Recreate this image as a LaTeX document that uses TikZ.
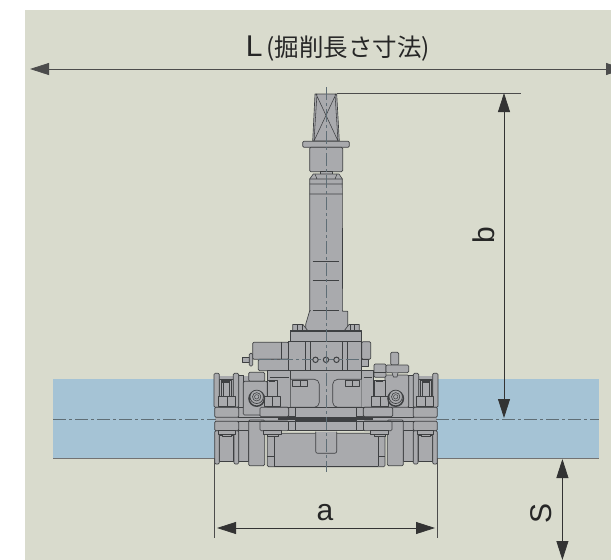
\documentclass[tikz,border=0pt]{standalone}
\usepackage{fontspec}
\setmainfont{Liberation Sans}
\newfontfamily\jpfont{Noto Sans CJK JP}
\usetikzlibrary{arrows.meta}
\definecolor{bgc}{HTML}{D9DBCD}
\definecolor{pipec}{HTML}{A5C3D5}
\definecolor{metal}{HTML}{A9AAAD}
\definecolor{ink}{HTML}{3E4042}
\definecolor{axisc}{HTML}{5F6E76}
\tikzset{
  x=1pt,y=-1pt,
  part/.style={draw=ink,fill=metal,line width=0.65pt,line join=round},
  rpart/.style={part,rounded corners=1.2pt},
  thin part/.style={draw=ink,line width=0.55pt},
  heavy part/.style={draw=ink,line width=1.3pt},
  axis/.style={draw=axisc,line width=0.9pt,dash pattern=on 13pt off 3pt on 3pt off 3pt},
  dimline/.style={draw=black!80,line width=0.8pt,{Triangle[length=19pt,width=12pt]}-{Triangle[length=19pt,width=12pt]}},
  extline/.style={draw=black!70,line width=0.7pt},
  dimtext/.style={text=black!85,font=\fontsize{30}{30}\selectfont,inner sep=0pt},
}
\newcommand{\pbox}[5][part]{\draw[#1] (#2,#3) rectangle (#4,#5);}
\newcommand{\sideassembly}{%
  % solid backing
  \fill[metal] (216,376) rectangle (262,462);
  % flanges upper
  \pbox{238.7}{375}{243.5}{407.3}
  \pbox{219.3}{379.3}{233.3}{407.3}
  \pbox[rpart]{214}{373.3}{219.3}{407.3}
  \pbox[rpart]{233.3}{373.3}{238.7}{407.3}
  \pbox{221}{380}{231.7}{396.7}
  \pbox[heavy part]{223}{381}{229.7}{382}
  \draw[thin part] (223,381) -- (223,396.7) (229.7,381) -- (229.7,396.7);
  \pbox{218.3}{396.7}{235.7}{406}
  \draw[thin part] (227,396.7) -- (227,406);
  % plates
  \pbox[rpart]{214.7}{407.3}{238.7}{417.3}
  \pbox[rpart]{214.7}{421.3}{238.7}{430.7}
  % lower collars
  \pbox{219.3}{435}{233.3}{461.7}
  \pbox{238.7}{430.7}{248.7}{461.7}
  \pbox[rpart]{214.7}{430.7}{219.3}{464}
  \pbox[rpart]{234}{430.7}{238.7}{464}
  \pbox{218.3}{430.7}{235}{434}
  \pbox{222}{434}{231}{436}
  \pbox[rpart]{248.7}{420}{264.7}{465.7}
  % centre plates
  \pbox[rpart]{260}{407.3}{288.7}{416.7}
  \pbox{288.7}{407.3}{295.3}{416.7}
  \pbox[rpart]{260}{421}{288.7}{430.7}
  \pbox{288.7}{421}{295.3}{430.7}
  \pbox{263.3}{430.7}{281.7}{434}
  \pbox{267}{434}{278}{436}
}
\begin{document}
\begin{tikzpicture}
\useasboundingbox (0,0) rectangle (611,560);
\clip (0,0) rectangle (611,560);
\fill[bgc] (25,10) rectangle (611,560);
% pipes
\fill[pipec] (53,379) rectangle (216,458);
\fill[pipec] (436,379) rectangle (599,458);
\draw[black!55,line width=0.7pt] (53,458) -- (216,458) (436,458) -- (599,458);
% thin gap bar
\fill[metal] (214.7,417) rectangle (437.3,421.5);
% stem
\draw[part] (315,94) -- (336.7,94) -- (339.3,141) -- (312.7,141) -- cycle;
\draw[thin part] (316,94) -- (338,141) (336,94) -- (314,141) (317,94) -- (314,141) (335,94) -- (338,141);
\pbox[rpart]{302.7}{141.3}{349.3}{147.3}
\pbox[rpart]{309.7}{147.3}{342.7}{171.7}
\pbox{320}{171.7}{332.7}{174}
\draw[part] (309.7,340) -- (309.7,179) -- (313.3,174) -- (339,174) -- (342.3,179) -- (342.7,340) -- cycle;
\draw[thin part] (309.7,184) -- (342.7,184) (309.7,194) -- (342.7,194) (309.7,179) -- (342.7,179)
  (315,174) -- (317,179) (337,174) -- (335,179);
\draw[thin part] (312.7,261.3) -- (339.3,261.3) (312.7,280.7) -- (339.3,280.7);
\draw[part] (309.7,310.7) -- (305.7,324.3) -- (305.7,331) -- (347.7,331) -- (347.7,311.3) -- (342.7,311.3) -- (342.7,310.7) -- cycle;
\draw[metal,line width=1.2pt] (311,311) -- (341.5,311);
\draw[thin part,line width=0.8pt] (312.7,310.7) -- (339.3,310.7);
% top block nuts
\draw[part] (292.7,331) -- (292.7,324.5) -- (303,324.5) -- (308,331);
\draw[thin part] (297.5,324.5) -- (297.5,331) (302,324.5) -- (302,331);
\draw[part] (359.3,331) -- (359.3,324.5) -- (349,324.5) -- (344,331);
\draw[thin part] (354.5,324.5) -- (354.5,331) (350,324.5) -- (350,331);
% block
\pbox{290.7}{330.7}{361.7}{341.7}
\draw[heavy part] (290.7,331.3) -- (361.7,331.3);
\pbox{242.7}{357.3}{249.3}{362}
\pbox[rpart]{249.3}{353.3}{252.7}{366}
\pbox[rpart]{252.7}{342.3}{288.7}{359.3}
\pbox[rpart]{258.3}{359.3}{290.7}{370.7}
\pbox[rpart]{361.7}{341.7}{370.7}{359.3}
\pbox{361.7}{359.3}{368}{366}
\pbox{288.7}{341.7}{361.7}{370.7}
\draw[thin part] (281.5,342.3) -- (281.5,359.3) (305,341.7) -- (305,370.7) (310,341.7) -- (310,370.7)
  (342,341.7) -- (342,370.7) (347,341.7) -- (347,370.7);
\draw[axis,line width=0.6pt] (258,359.5) -- (362,359.5);
\foreach \cx in {315.5,326,336.5} {\draw[draw=ink,line width=1pt,fill=metal] (\cx,359.8) circle (2.7);}
% lower centre
\pbox{267.3}{370.7}{290.7}{407.3}
\pbox{290.7}{370.7}{361.7}{407.3}
\pbox{361.7}{370.7}{373.5}{407.3}
\draw[draw=ink,line width=1pt] (269.5,377) -- (289,377) (363.5,377) -- (372,377);
\draw[part,rounded corners=5pt] (290.7,379.3) -- (319.3,379.3) -- (319.3,407.3) -- (290.7,407.3);
\draw[part,rounded corners=5pt] (361.7,379.3) -- (332.7,379.3) -- (332.7,407.3) -- (361.7,407.3);
\pbox{292.7}{380.7}{307.3}{386.7}
\draw[thin part] (300,380.7) -- (300,386.7);
\pbox{345}{380.7}{359.3}{386.7}
\draw[thin part] (352,380.7) -- (352,386.7);
\pbox{295.3}{407.3}{356.7}{417.3}
\draw[fill=metal,draw=ink,line width=0.65pt] (295.3,420) rectangle (356.7,430);
% lower housing
\pbox[rpart]{267.3}{433.3}{385}{466.7}
\draw[thin part] (274,433.3) -- (274,466) (378.3,433.3) -- (378.3,466) (267.3,456) -- (274,456) (378.3,456) -- (385,456);
\draw[heavy part] (274,466.3) -- (378.3,466.3);
\draw[part,rounded corners=2pt] (315.7,431.7) -- (315.7,453.3) -- (336.7,453.3) -- (336.7,431.7);
% sides
\sideassembly
\begin{scope}[xshift=652pt,xscale=-1]
\sideassembly
\end{scope}
% left bracket (upper)
\pbox[rpart]{248.7}{372.3}{264.7}{381.3}
\pbox[rpart]{243.3}{381.3}{267.3}{415}
\pbox{267.3}{380}{277.3}{396.7}
\draw[heavy part] (269.3,381) -- (275.3,381);
\pbox{264}{396.7}{280.7}{406}
\draw[thin part] (272.5,396.7) -- (272.5,406);
\pbox[rpart]{260}{407.3}{288.7}{416.7}
% right bracket (upper)
\pbox[rpart]{385}{375}{408.7}{407.3}
\pbox[rpart]{374}{364}{386}{377.3}
\draw[thin part] (374,372) -- (386,372);
\pbox[rpart]{390.7}{352.3}{398.7}{365}
\pbox[rpart]{386}{365}{408.7}{372.7}
\draw[part] (392,372.7) -- (393.5,377) -- (397,377) -- (398,372.7);
\pbox{374}{380}{385}{396.7}
\draw[heavy part] (376,381) -- (383,381);
\pbox{371.3}{396.7}{388.7}{406}
\draw[thin part] (380,396.7) -- (380,406);
\pbox[rpart]{363.3}{407.3}{392.7}{416.7}
% gap lines
\draw[heavy part] (278,418.9) -- (373,418.9);
\draw[thin part] (238,417.3) -- (414,417.3) (238,421) -- (414,421);
% socket bolts
\foreach \cx in {256.7,395.7} {
  \draw[draw=ink,line width=1.5pt,fill=metal] (\cx,398.5) circle (7.7);
  \draw[draw=ink,line width=0.7pt,fill=metal] (\cx,396.8) circle (6.7);
  \draw[draw=ink,line width=0.6pt] (\cx,396.8) circle (4.2);
  \draw[draw=ink,line width=0.5pt] (\cx,396.8) circle (2.2);
}
% axes
\draw[axis] (53,419) -- (216,419);
\draw[axis] (436,419) -- (599,419);
\draw[axis] (326,87) -- (326,472);
% dimensions
\coordinate (Lleft) at (30,69);
\coordinate (Lright) at (625,69);
\draw[dimline,draw=black!70] (Lleft) -- (Lright);
\node[dimtext,font=\fontsize{30}{30}\selectfont] (Ltext) at (338,48.5) {L{\jpfont\fontsize{24.5}{24.5}\selectfont\,(掘削長さ寸法)}};
\coordinate (btopA) at (337,93);
\coordinate (btopB) at (521,93);
\draw[extline] (btopA) -- (btopB);
\coordinate (bt) at (504,93);
\coordinate (bb) at (504,418);
\draw[dimline] (bt) -- (bb);
\node[dimtext,rotate=90] (btext) at (484,235) {b};
\coordinate (aL) at (214.7,458);
\coordinate (aLe) at (214.7,538);
\coordinate (aR) at (437.2,458);
\coordinate (aRe) at (437.2,538);
\draw[extline] (aL) -- (aLe) (aR) -- (aRe);
\coordinate (a1) at (217,528);
\coordinate (a2) at (435,528);
\draw[dimline] (a1) -- (a2);
\node[dimtext] (atext) at (325,513) {a};
\coordinate (s1) at (562.4,459);
\coordinate (s2) at (562.4,560);
\draw[dimline] (s1) -- (s2);
\node[dimtext,rotate=90] (stext) at (541.5,513) {S};
\end{tikzpicture}
\end{document}
